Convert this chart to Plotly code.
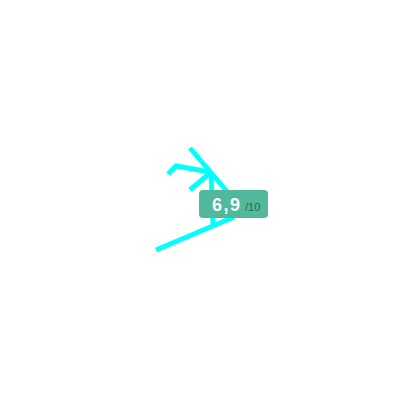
import plotly.graph_objects as go

# sketched strokes (pixel space, y grows downward); None splits strokes
stroke_x = [190, 211, 236, None, 168, 176, 210, None, 210, 190, None, 211, 212, 213, None, 234, 156]
stroke_y = [148, 173, 202, None, 174, 166, 172, None, 173, 190, None, 173, 200, 224, None, 217, 250]

score = "6,9"
scale_max = "/10"

fig = go.Figure()
fig.add_trace(go.Scatter(x=stroke_x, y=stroke_y, mode="lines",
                         line=dict(color="#00ffff", width=5),
                         connectgaps=False, hoverinfo="skip"))

# rounded badge
x0, x1, y0, y1, r = 199, 268, 190, 218, 4
path = (f"M {x0+r},{y0} L {x1-r},{y0} Q {x1},{y0} {x1},{y0+r} "
        f"L {x1},{y1-r} Q {x1},{y1} {x1-r},{y1} L {x0+r},{y1} "
        f"Q {x0},{y1} {x0},{y1-r} L {x0},{y0+r} Q {x0},{y0} {x0+r},{y0} Z")
fig.add_shape(type="path", path=path, xref="x", yref="y",
              fillcolor="#52b89c", line=dict(width=0), layer="above")

fig.add_annotation(x=225.5, y=205, xref="x", yref="y", showarrow=False,
                   text="<b>" + "\u200a".join(score) + "</b>",
                   font=dict(family="Liberation Sans, Arial", size=18, color="white"))
fig.add_annotation(x=243, y=207, xref="x", yref="y", showarrow=False, xanchor="left",
                   text=scale_max,
                   font=dict(family="Liberation Sans, Arial", size=11, color="#33614f"))

# page body has an 8px margin, so the axes are offset to keep pixel positions
fig.update_layout(width=400, height=400, margin=dict(l=0, r=0, t=0, b=0),
                  paper_bgcolor="white", plot_bgcolor="white", showlegend=False,
                  xaxis=dict(range=[8, 408], visible=False, fixedrange=True),
                  yaxis=dict(range=[408, 8], visible=False, fixedrange=True))
fig.write_html("out.html")
